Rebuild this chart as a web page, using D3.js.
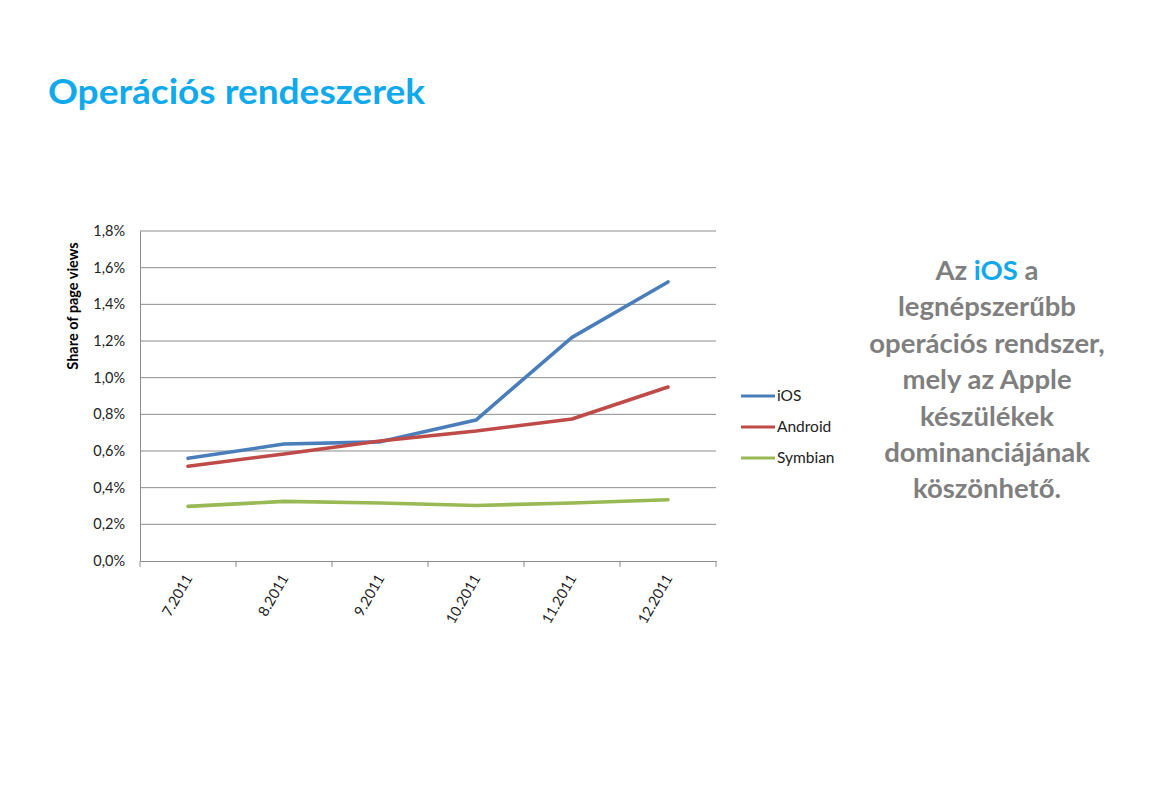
<!DOCTYPE html>
<html><head><meta charset="utf-8">
<script src="https://cdn.jsdelivr.net/npm/d3@7"></script>
<style>body{margin:0;background:#fff;}svg{display:block;}</style>
</head><body>
<svg id="c" width="1149" height="786"></svg>
<script>
const categories = ["7.2011","8.2011","9.2011","10.2011","11.2011","12.2011"];
const seriesNames = ["iOS","Android","Symbian"];
const iosValues = [0.56, 0.638, 0.65, 0.769, 1.22, 1.522];
const androidValues = [0.517, 0.584, 0.655, 0.709, 0.775, 0.949];
const symbianValues = [0.298, 0.325, 0.316, 0.303, 0.316, 0.334];
const yTicks = [0,0.2,0.4,0.6,0.8,1.0,1.2,1.4,1.6,1.8];
const colors = ["#4a7ebb","#be4b48","#98b954"];
const titleText = "Operációs rendeszerek";
const noteLines = [["Az ",["iOS"]," a"],["legnépszerűbb"],["operációs rendszer,"],["mely az Apple"],["készülékek"],["dominanciájának"],["köszönhető."]];

const svg = d3.select("#c");
const font = "Lato, 'Open Sans', sans-serif";

svg.append("text").attr("x",48).attr("y",104).attr("fill","#0fa9ec")
  .attr("font-family",font).attr("font-weight","bold").attr("font-size",34)
  .attr("textLength",377).attr("lengthAdjust","spacingAndGlyphs").text(titleText);

const L=140,R=716,T=231,B=561;
const x = d3.scaleBand().domain(categories).range([L,R]);
const y = d3.scaleLinear().domain([0,1.8]).range([B,T]);

// gridlines
svg.append("g").selectAll("line").data(yTicks.slice(1)).join("line")
  .attr("x1",L).attr("x2",R).attr("y1",d=>y(d)).attr("y2",d=>y(d))
  .attr("stroke","#8c8c8c").attr("stroke-width",1);

const fmt = d => d.toFixed(1).replace(".",",")+"%";
const yAxis = svg.append("g").attr("transform",`translate(${L},0)`)
  .call(d3.axisLeft(y).tickValues(yTicks).tickFormat(fmt).tickSize(0).tickPadding(15));
yAxis.select(".domain").attr("stroke","#8c8c8c");
yAxis.selectAll("text").attr("font-family",font).attr("font-size",14.5).attr("fill","#222");

const xAxis = svg.append("g").attr("transform",`translate(0,${B})`)
  .call(d3.axisBottom(x).tickSize(0).tickFormat(""));
xAxis.select(".domain").attr("stroke","#8c8c8c");
// boundary ticks
const bounds = categories.map(c=>x(c)).concat([R]);
svg.append("g").selectAll("line").data(bounds).join("line")
  .attr("x1",d=>d).attr("x2",d=>d).attr("y1",B).attr("y2",B+6).attr("stroke","#8c8c8c");
svg.append("g").selectAll("text").data(categories).join("text")
  .attr("transform",d=>`translate(${x(d)+x.bandwidth()/2+5},${B+17}) rotate(-60)`)
  .attr("text-anchor","end").attr("font-family",font).attr("font-size",14.5).attr("fill","#222")
  .text(d=>d);

svg.append("text").attr("transform","translate(78,306) rotate(-90)")
  .attr("text-anchor","middle").attr("font-family",font).attr("font-weight","bold")
  .attr("font-size",14.5).attr("fill","#000").text("Share of page views");

const data = [iosValues, androidValues, symbianValues];
const line = d3.line().x((d,i)=>x(categories[i])+x.bandwidth()/2).y(d=>y(d));
svg.append("g").selectAll("path").data(data).join("path")
  .attr("d",line).attr("fill","none").attr("stroke",(d,i)=>colors[i])
  .attr("stroke-width",3.6).attr("stroke-linejoin","round").attr("stroke-linecap","round");

// legend
const lg = svg.append("g");
seriesNames.forEach((n,i)=>{
  const ly = 396 + i*31;
  lg.append("line").attr("x1",741).attr("x2",775).attr("y1",ly).attr("y2",ly)
    .attr("stroke",colors[i]).attr("stroke-width",3);
  lg.append("text").attr("x",777).attr("y",ly+5).attr("font-family",font)
    .attr("font-size",15.5).attr("fill","#222").text(n);
});

// note
const note = svg.append("text").attr("text-anchor","middle").attr("font-family",font)
  .attr("font-weight","bold").attr("font-size",27.5).attr("fill","#7f7f7f");
noteLines.forEach((parts,i)=>{
  const t = note.append("tspan").attr("x",987).attr("y",280 + i*36.4);
  parts.forEach(p=>{
    if(Array.isArray(p)) t.append("tspan").attr("fill","#13a8ec").text(p[0]);
    else t.append("tspan").text(p);
  });
});
</script>
</body></html>
